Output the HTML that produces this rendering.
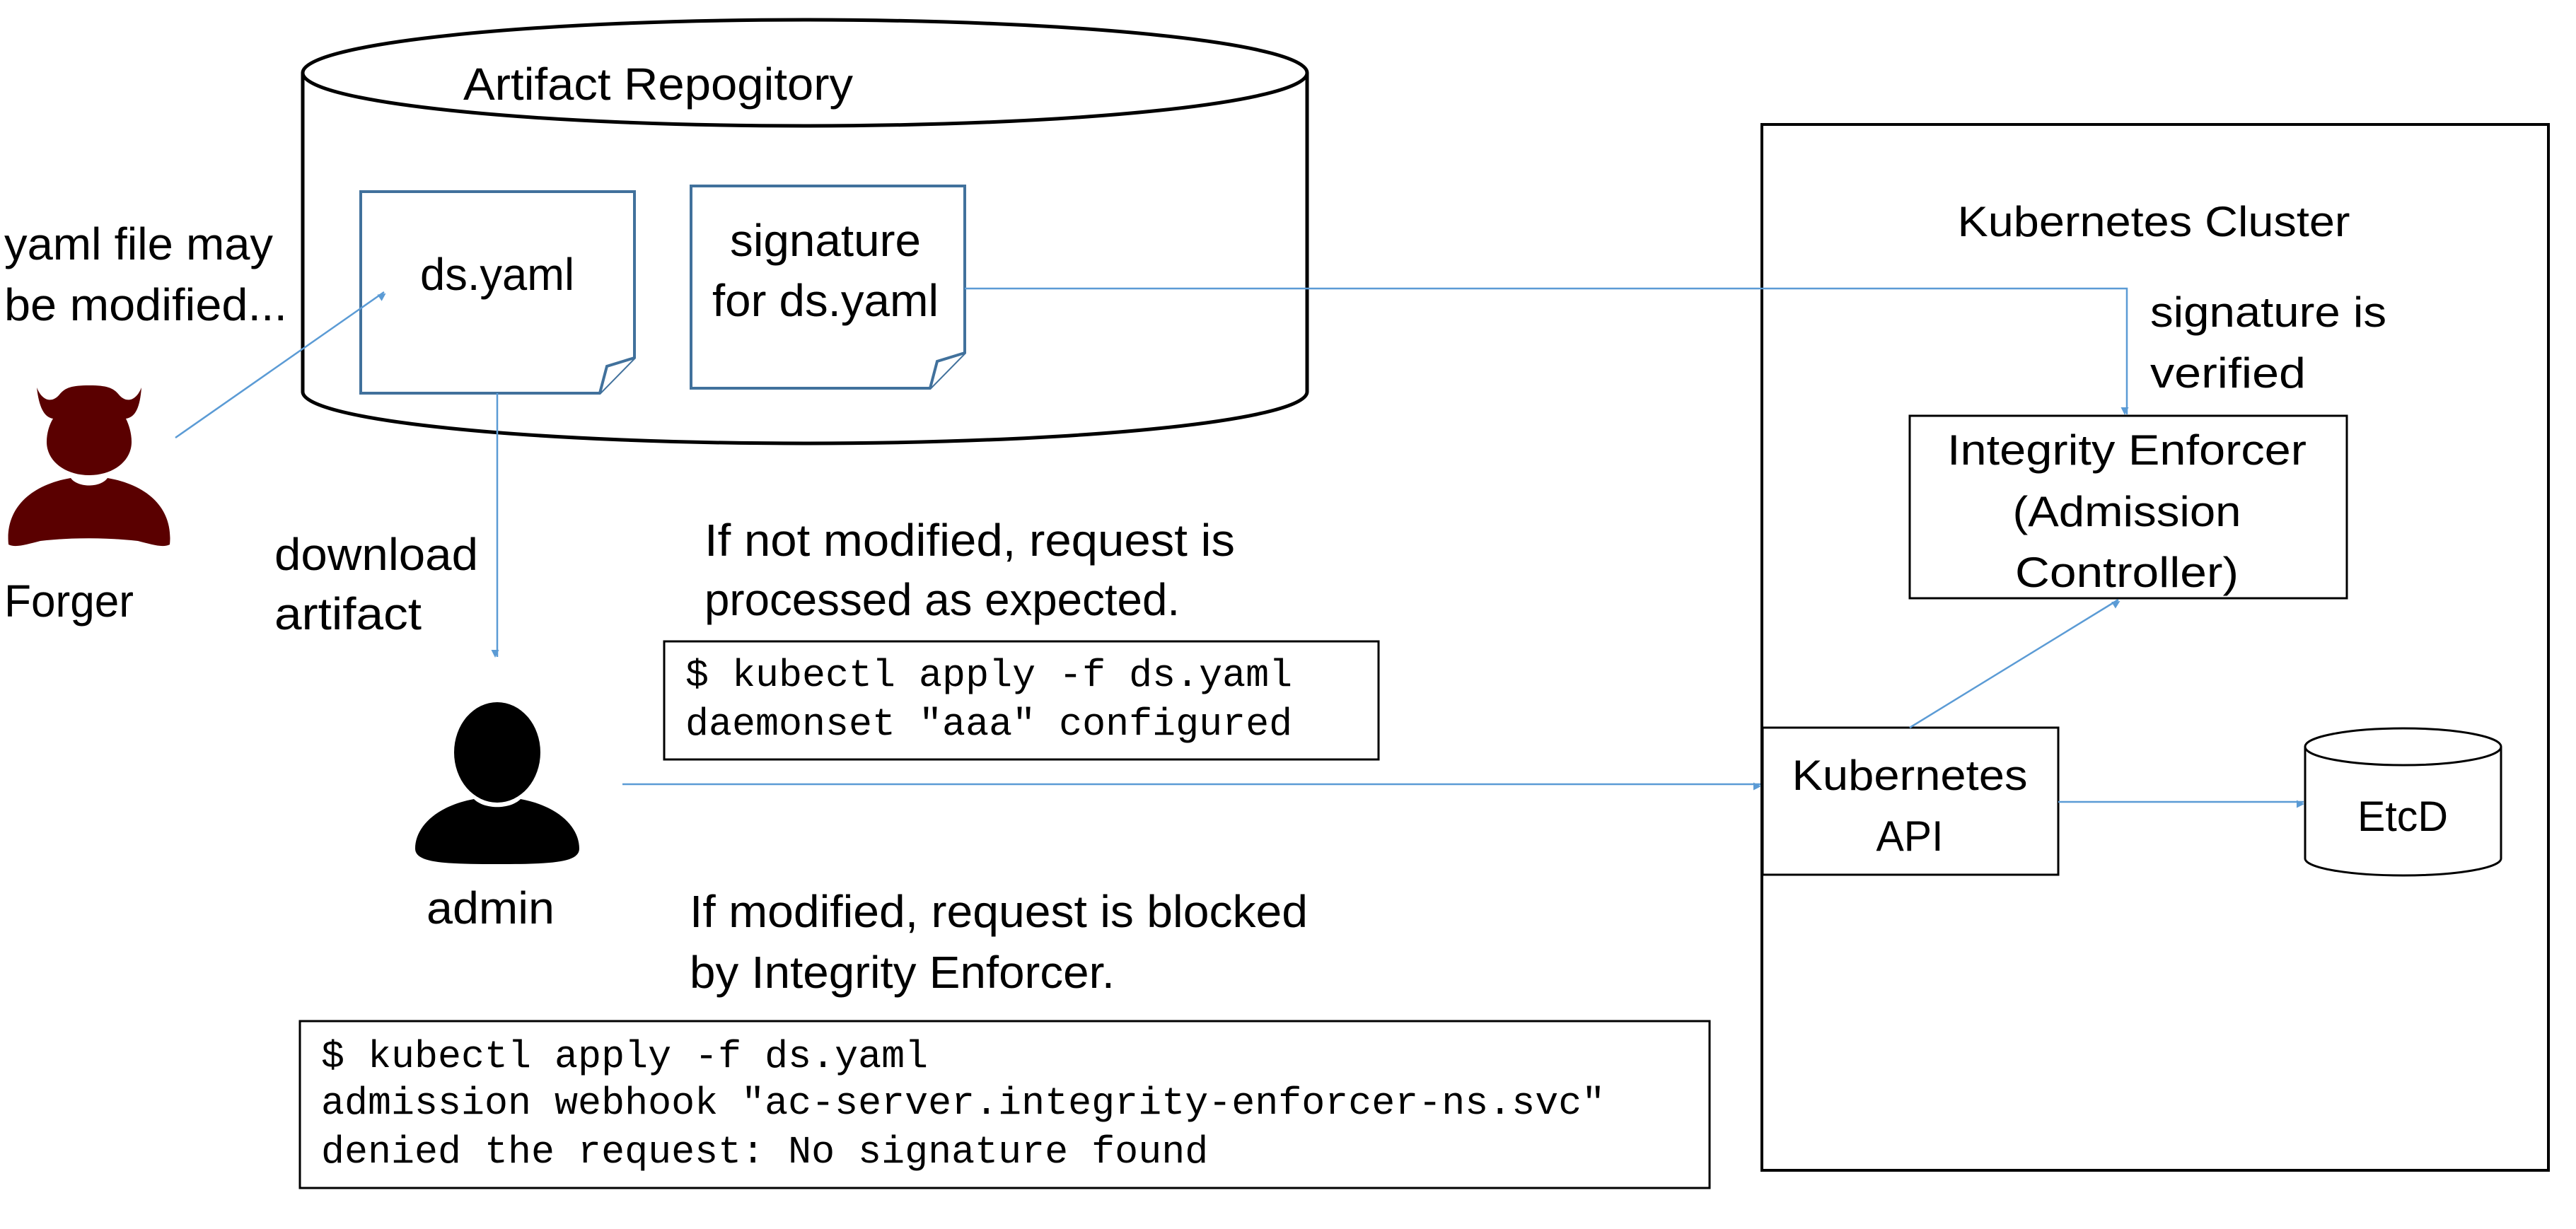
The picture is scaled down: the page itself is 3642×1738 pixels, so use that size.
<!DOCTYPE html>
<html><head><meta charset="utf-8"><style>html,body{margin:0;padding:0;background:#fff}svg{display:block}</style></head>
<body>
<svg width="3642" height="1738" viewBox="0 0 3642 1738" xmlns="http://www.w3.org/2000/svg" font-family="'Liberation Sans', sans-serif" fill="#000">
<defs>
<marker id="ah" viewBox="0 0 10 10" refX="9" refY="5" markerWidth="5" markerHeight="5" orient="auto" markerUnits="userSpaceOnUse" style="overflow:visible">
<path d="M0,0 L10,5 L0,10 z" fill="#5b9bd5" transform="scale(2.2) translate(-5,0)"/>
</marker>
</defs>
<!-- Artifact repository cylinder -->
<g fill="none" stroke="#000" stroke-width="5">
<path d="M428,103 L428,554 A710,73 0 0 0 1848,554 L1848,103"/>
<ellipse cx="1138" cy="103" rx="710" ry="75" fill="#fff"/>
</g>
<g font-size="64" lengthAdjust="spacingAndGlyphs">
<text x="655" y="141" textLength="551" lengthAdjust="spacingAndGlyphs">Artifact Repogitory</text>
</g>
<!-- docs -->
<g fill="#fff" stroke="#41719c" stroke-width="4">
<path d="M510,271 L897,271 L897,506 L848,556 L510,556 Z"/>
<path d="M848,556 L858,518 L897,506"/>
<path d="M977,263 L1364,263 L1364,499 L1315,549 L977,549 Z"/>
<path d="M1315,549 L1325,511 L1364,499"/>
</g>
<text x="703" y="410" font-size="64" text-anchor="middle" textLength="218" lengthAdjust="spacingAndGlyphs">ds.yaml</text>
<text x="1167" y="362" font-size="64" text-anchor="middle" textLength="270" lengthAdjust="spacingAndGlyphs">signature</text>
<text x="1167" y="447" font-size="64" text-anchor="middle" textLength="320" lengthAdjust="spacingAndGlyphs">for ds.yaml</text>
<!-- left texts -->
<g font-size="64">
<text x="6" y="367" textLength="380" lengthAdjust="spacingAndGlyphs">yaml file may</text>
<text x="6" y="453" textLength="400" lengthAdjust="spacingAndGlyphs">be modified...</text>
<text x="6" y="872" textLength="183" lengthAdjust="spacingAndGlyphs">Forger</text>
<text x="388" y="806" textLength="288" lengthAdjust="spacingAndGlyphs">download</text>
<text x="388" y="890" textLength="208" lengthAdjust="spacingAndGlyphs">artifact</text>
<text x="996" y="786" textLength="750" lengthAdjust="spacingAndGlyphs">If not modified, request is</text>
<text x="996" y="870" textLength="672" lengthAdjust="spacingAndGlyphs">processed as expected.</text>
<text x="603" y="1306" textLength="181" lengthAdjust="spacingAndGlyphs">admin</text>
<text x="975" y="1311" textLength="874" lengthAdjust="spacingAndGlyphs">If modified, request is blocked</text>
<text x="975" y="1397" textLength="601" lengthAdjust="spacingAndGlyphs">by Integrity Enforcer.</text>
</g>
<!-- forger icon -->
<g fill="#5a0000">
<path d="M52,548 C55,575 62,590 75,592 C70,600 66,612 66,625 C66,652 92,672 126,672 C160,672 186,652 186,625 C186,612 182,600 178,592 C192,590 198,575 200,548 C192,568 178,570 168,558 C160,548 150,545 126,545 C102,545 92,548 84,558 C74,570 60,568 52,548 Z"/>
<path d="M100,676 C110,690 142,690 152,676 C210,686 245,720 240,770 C230,775 215,770 195,765 C150,760 100,760 57,765 C37,770 22,775 12,770 C7,720 42,686 100,676 Z"/>
</g>
<!-- admin icon -->
<g fill="#000">
<ellipse cx="703" cy="1064" rx="61" ry="71"/>
<path d="M670,1130 C685,1145 721,1145 736,1130 C790,1140 819,1170 819,1200 C819,1220 780,1222 703,1222 C626,1222 587,1220 587,1200 C587,1170 616,1140 670,1130 Z"/>
</g>
<!-- command boxes -->
<rect x="939" y="907" width="1010" height="167" fill="#fff" stroke="#000" stroke-width="3"/>
<g font-family="'Liberation Mono', monospace" font-size="55">
<text x="969" y="970">$ kubectl apply -f ds.yaml</text>
<text x="969" y="1039">daemonset "aaa" configured</text>
</g>
<rect x="424" y="1444" width="1993" height="236" fill="#fff" stroke="#000" stroke-width="3"/>
<g font-family="'Liberation Mono', monospace" font-size="55">
<text x="454" y="1509">$ kubectl apply -f ds.yaml</text>
<text x="454" y="1575">admission webhook "ac-server.integrity-enforcer-ns.svc"</text>
<text x="454" y="1644">denied the request: No signature found</text>
</g>
<!-- cluster -->
<rect x="2491" y="176" width="1112" height="1479" fill="none" stroke="#000" stroke-width="4"/>
<g font-size="60">
<text x="3045" y="334" text-anchor="middle" textLength="555" lengthAdjust="spacingAndGlyphs">Kubernetes Cluster</text>
<text x="3040" y="462" textLength="334" lengthAdjust="spacingAndGlyphs">signature is</text>
<text x="3040" y="548" textLength="220" lengthAdjust="spacingAndGlyphs">verified</text>
</g>
<rect x="2700" y="588" width="618" height="258" fill="#fff" stroke="#000" stroke-width="3"/>
<g font-size="60">
<text x="3007" y="657" text-anchor="middle" textLength="508" lengthAdjust="spacingAndGlyphs">Integrity Enforcer</text>
<text x="3007" y="744" text-anchor="middle" textLength="323" lengthAdjust="spacingAndGlyphs">(Admission</text>
<text x="3007" y="830" text-anchor="middle" textLength="316" lengthAdjust="spacingAndGlyphs">Controller)</text>
</g>
<rect x="2492" y="1029" width="418" height="208" fill="#fff" stroke="#000" stroke-width="3"/>
<g font-size="60">
<text x="2700" y="1117" text-anchor="middle" textLength="333" lengthAdjust="spacingAndGlyphs">Kubernetes</text>
<text x="2700" y="1203" text-anchor="middle" textLength="95" lengthAdjust="spacingAndGlyphs">API</text>
</g>
<!-- EtcD -->
<g fill="#fff" stroke="#000" stroke-width="3">
<path d="M3259,1056 L3259,1214 A138.5,24 0 0 0 3536,1214 L3536,1056"/>
<ellipse cx="3397.5" cy="1056" rx="138.5" ry="26"/>
</g>
<text x="3397" y="1175" font-size="60" text-anchor="middle" textLength="128" lengthAdjust="spacingAndGlyphs">EtcD</text>
<!-- connectors -->
<g fill="none" stroke="#5b9bd5" stroke-width="2.5">
<line x1="248" y1="619" x2="543" y2="413" marker-end="url(#ah)"/>
<line x1="703" y1="556" x2="703" y2="929" marker-end="url(#ah)"/>
<polyline points="1364,408 3007,408 3007,586" marker-end="url(#ah)"/>
<line x1="880" y1="1109" x2="2489" y2="1109" marker-end="url(#ah)"/>
<line x1="2700" y1="1029" x2="2995" y2="848" marker-end="url(#ah)"/>
<line x1="2910" y1="1134" x2="3257" y2="1134" marker-end="url(#ah)"/>
</g>
</svg>
</body></html>
